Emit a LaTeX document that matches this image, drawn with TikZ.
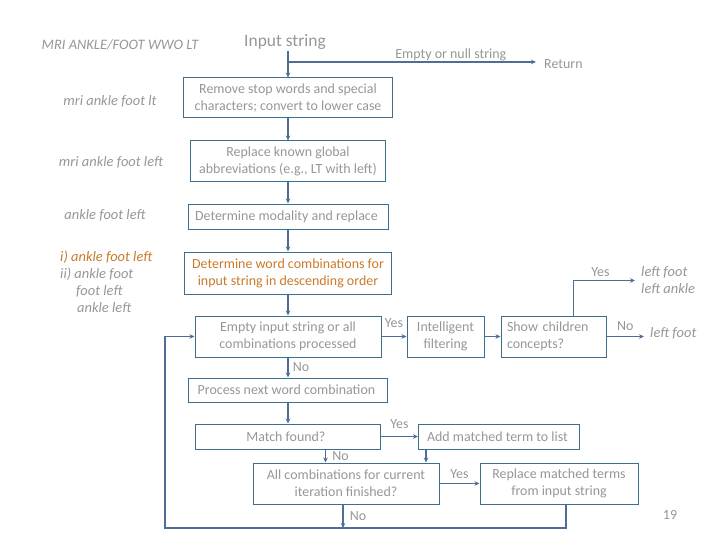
\documentclass[tikz,border=0pt]{standalone}
\usepackage{fontspec}
\setmainfont{Carlito}
\usetikzlibrary{positioning,arrows.meta,calc}
\definecolor{LineBlue}{RGB}{79,110,150}
\definecolor{BoxTeal}{RGB}{62,110,140}
\definecolor{TextGrey}{RGB}{150,150,150}
\definecolor{NoteOrange}{RGB}{200,122,40}
\tikzset{
  flow/.style={-{Stealth[length=5bp,width=4.5bp]},line width=1.6bp,draw=LineBlue},
  box/.style={draw=BoxTeal,line width=1bp,inner sep=2bp,align=center,
    text=TextGrey,font=\fontsize{14}{17}\selectfont},
  note/.style={text=TextGrey,inner sep=0pt,align=left,
    font=\fontsize{14.5}{17}\selectfont\itshape},
  lbl/.style={text=TextGrey,inner sep=1bp,font=\fontsize{14}{15}\selectfont}
}
\begin{document}
\begin{tikzpicture}[x=1bp,y=-1bp]
  \useasboundingbox (0,0) rectangle (720,540);
  \node[lbl,font=\fontsize{17.5}{19}\selectfont] (input) at (285,42) {Input string};
  \node[box,minimum width=209bp,minimum height=40bp] (remove) at (288,98) {
    Remove stop words and special\\characters; convert to lower case
  };
  \node[box,below=22bp of remove,minimum width=195bp,minimum height=41bp] (abbrev) {
    Replace known global\\abbreviations (e.g., LT with left)
  };
  \node[box,below=21bp of abbrev,minimum width=200bp,minimum height=25bp] (modality) {
    Determine modality and replace
  };
  \node[box,below=22bp of modality,minimum width=207bp,minimum height=42bp,text=NoteOrange] (combos) {
    Determine word combinations for\\input string in descending order
  };
  \node[box,below=21bp of combos,minimum width=186bp,minimum height=41bp] (empty) {
    Empty input string or all\\combinations processed
  };
  \node[box,right=25bp of empty,minimum width=77bp,minimum height=41bp] (intel) {
    Intelligent\\filtering
  };
  \node[box,right=16bp of intel,minimum width=105bp,minimum height=41bp,
    text width=93bp,inner sep=6bp,align=left] (children) {
    Show children\\concepts?
  };
  \node[box,below=20bp of empty,minimum width=199bp,minimum height=24bp] (process) {
    Process next word combination
  };
  \node[box,below=21bp of process,minimum width=185bp,minimum height=25bp] (match) {
    Match found?
  };
  \node[box,right=37bp of match,minimum width=161bp,minimum height=25bp] (addterm) {
    Add matched term to list
  };
  \node[box,minimum width=186bp,minimum height=41bp] (allcomb) at (346,483.5) {
    All combinations for current\\iteration finished?
  };
  \node[box,right=40bp of allcomb,minimum width=158bp,minimum height=41bp] (replace) {
    Replace matched terms\\from input string
  };
  \node[note] (mri) at (120,45) {MRI ANKLE/FOOT WWO LT};
  \node[note] (lt) at (110,101) {mri ankle foot lt};
  \node[note] (left) at (111,162) {mri ankle foot left};
  \node[note] (nomod) at (105,215) {ankle foot left};
  \node[note,anchor=west,text=NoteOrange] (combi) at (60,257) {i) ankle foot left};
  \node[note,anchor=west] (combii) at (60,274) {ii) ankle foot};
  \node[note,anchor=west] (combiii) at (76,291) {foot left};
  \node[note,anchor=west] (combiv) at (77,308) {ankle left};
  \node[note,anchor=west] (kids) at (641,280.5) {left foot\\left ankle};
  \node[note,anchor=west] (leaf) at (650,333) {left foot};
  \node[lbl,anchor=west] (ret) at (543,64) {Return};
  \node[lbl] (page) at (670,515) {19};
  \coordinate (split) at (287,62);
  \coordinate (loop) at (165,528);
  \draw[flow] (input.south -| remove.north) -- (remove.north);
  \draw[flow,shorten >=7bp] (split) -- node[lbl,above,pos=0.64,yshift=-1bp] {Empty or null string} (split -| ret.west);
  \draw[flow] (remove) -- (abbrev);
  \draw[flow] (abbrev) -- (modality);
  \draw[flow] (modality) -- (combos);
  \draw[flow] (combos) -- (empty);
  \draw[flow] (empty) -- node[lbl,above,yshift=7bp] {Yes} (intel);
  \draw[flow] (intel) -- (children);
  \draw[flow,shorten >=6bp] ([xshift=20bp]children.north) |- node[lbl,above,pos=0.7,yshift=2bp] {Yes} (kids.west);
  \draw[flow,shorten >=6bp] (children.east) -- node[lbl,above,xshift=-3bp,yshift=4bp] {No} (children.east -| leaf.west);
  \draw[flow] (empty) -- node[lbl,right=3bp] {No} (process);
  \draw[flow] (process) -- (match);
  \draw[flow] (match) -- node[lbl,above,yshift=6bp] {Yes} (addterm);
  \draw[flow] ([xshift=73bp]allcomb.north west |- match.south) -- node[lbl,right=5bp] {No} ([xshift=73bp]allcomb.north west);
  \draw[flow] ([xshift=8bp]addterm.south west) -- ([xshift=8bp]addterm.south west |- allcomb.north);
  \draw[flow] (allcomb) -- node[lbl,above,yshift=3bp] {Yes} (replace);
  \draw[flow] ([xshift=-3bp]allcomb.south) -- node[lbl,right=5bp] {No} ([xshift=-3bp]allcomb.south |- loop);
  \draw[flow] ([xshift=7bp]replace.south) -- ([xshift=7bp]replace.south |- loop) -- (loop) |- (empty.west);
\end{tikzpicture}
\end{document}
